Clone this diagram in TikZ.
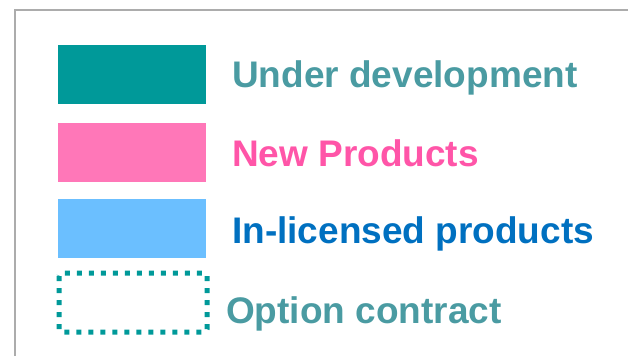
\documentclass[tikz,border=0pt]{standalone}
\usepackage{fontspec}
\setmainfont{Liberation Sans}
\usepackage{tikz}
\usetikzlibrary{positioning}
\usepackage{xcolor}

\definecolor{devteal}{HTML}{009999}
\definecolor{devtext}{HTML}{4A9BA2}
\definecolor{newpink}{HTML}{FF77B8}
\definecolor{newtext}{HTML}{FF55A8}
\definecolor{inblue}{HTML}{6BBFFF}
\definecolor{intext}{HTML}{0070C0}

\begin{document}
\begin{tikzpicture}[x=1pt,y=-1pt,
        swatch/.style={minimum width=148pt, minimum height=59pt, inner sep=0pt},
        legendtext/.style={anchor=base west, inner sep=0pt, font=\fontsize{37}{40}\selectfont\bfseries}]
        \useasboundingbox (0,0) rectangle (628,356);
        \draw[line width=2.5pt, gray!65] (15,356) -- (15,10) -- (628,10);
        \foreach \name/\fillc/\textc/\y/\base/\lbl in {dev/devteal/devtext/74.5/87/Under development,
                new/newpink/newtext/152.5/166/New Products,
                lic/inblue/intext/228.5/243/In-licensed products} {
            \node[swatch, fill=\fillc] (box\name) at (132,\y) {};
            \node[legendtext, text=\textc] (lbl\name) at (232,\base) {\lbl};
        }
        \draw[devteal, line width=5pt, dash pattern=on 5pt off 7pt, rounded corners=3pt] (59,273) rectangle (207,332);
        \node[legendtext, text=devtext] (lblopt) at (226,323) {Option contract};
    \end{tikzpicture}
\end{document}
